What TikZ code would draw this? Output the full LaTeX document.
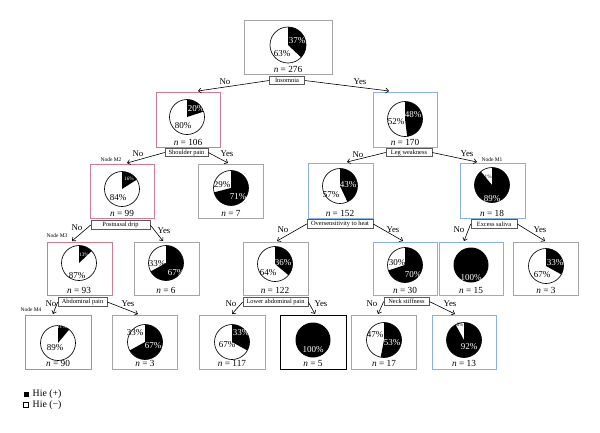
\documentclass[tikz,border=0pt]{standalone}
\usepackage{fontspec}
\setmainfont{Liberation Serif}
\usetikzlibrary{arrows.meta}
\definecolor{bpink}{RGB}{205,125,145}
\definecolor{bblue}{RGB}{140,175,225}
\definecolor{bgray}{RGB}{165,165,165}
\definecolor{lgray}{RGB}{90,90,90}
\newcommand\mypie[4]{%
  \begin{scope}[shift={(#1,#2)},x=1pt,y=1pt]
    \fill[black] (0,0) -- (0,#4) arc[start angle=90,end angle={90-3.6*#3},radius=#4] -- cycle;
    \draw[line width=0.65pt] (0,0) circle[radius=#4];
  \end{scope}}
\newcommand\fullpie[3]{%
  \fill[black] (#1,#2) circle[radius=#3];}
\newcommand\tbox[6]{%
  \node[tbx,draw=#6,minimum width={(#4-#2)*1pt},minimum height={(#5-#3)*1pt},anchor=north west] (#1) at (#2,#3) {};}
\begin{document}
\begin{tikzpicture}[x=1pt,y=-1pt,
  tbx/.style={line width=0.85pt,inner sep=0pt},
  lab/.style={draw=lgray,fill=white,line width=0.6pt,inner sep=0.5pt,minimum height=8.5pt,font=\fontsize{6.4}{6.8}\selectfont},
  pb/.style={font=\fontsize{9}{9}\selectfont,inner sep=0pt,text=black},
  pw/.style={font=\fontsize{9}{9}\selectfont,inner sep=0pt,text=white},
  sb/.style={font=\fontsize{5.2}{5.2}\selectfont,inner sep=0pt,text=black},
  sw/.style={font=\fontsize{5.2}{5.2}\selectfont,inner sep=0pt,text=white},
  nn/.style={font=\fontsize{9.3}{9.3}\selectfont,inner sep=0pt},
  yn/.style={font=\fontsize{8.8}{9}\selectfont,inner sep=0pt},
  ml/.style={font=\fontsize{5.5}{5.5}\selectfont,inner sep=0pt},
  con/.style={line width=0.6pt,-{Straight Barb[length=2.8pt,width=5pt]}}]
\useasboundingbox (0,0) rectangle (600,432);
\fill[white] (0,0) rectangle (600,432);
% boxes
\tbox{root}{244}{20}{332}{74}{bgray}
\tbox{nA}{156}{92}{220}{147}{bpink}
\tbox{nB}{373}{92}{437}{147}{bblue}
\tbox{nM2}{90}{164}{154}{218}{bpink}
\tbox{nSe}{198}{164}{263}{218}{bgray}
\tbox{nOs}{308}{163}{373}{218}{bblue}
\tbox{nM1}{460}{163}{525}{218}{bblue}
\tbox{nM3}{47}{242}{112}{295}{bpink}
\tbox{nSix}{134}{242}{199}{295}{bgray}
\tbox{nLa}{243}{242}{308}{295}{bgray}
\tbox{nNk}{373}{242}{437}{295}{bblue}
\tbox{nFt}{439}{242}{503}{295}{bblue}
\tbox{nThE}{513}{242}{578}{295}{bgray}
\tbox{nM4}{25}{315}{91}{369}{bpink}
\tbox{nThA}{112}{315}{177}{369}{bgray}
\tbox{nOst}{199}{315}{265}{369}{bgray}
\tbox{nFive}{280}{315}{346}{369}{black}
\tbox{nSvt}{351}{315}{416}{369}{bgray}
\tbox{nThr}{432}{315}{496}{369}{bblue}
% pies
\mypie{288}{45}{37}{18}
\mypie{187}{117}{20}{17.5}
\mypie{405}{119}{48}{17.5}
\mypie{122}{189}{16}{17.5}
\mypie{231}{188}{71}{17.5}
\mypie{340}{186}{43}{17.5}
\mypie{492}{185}{89}{17.5}
\mypie{79}{263}{13}{17.5}
\mypie{166}{263}{67}{17.5}
\mypie{275}{264}{36}{17.5}
\mypie{405}{265}{70}{17.5}
\fullpie{471}{265}{17.5}
\mypie{546}{266}{33}{17.5}
\mypie{58}{343}{11}{17.5}
\mypie{145}{342}{67}{17.5}
\mypie{232}{342}{33}{17.5}
\fullpie{313}{340}{17.5}
\mypie{384}{340}{53}{17.5}
\mypie{464}{340}{92}{17.5}
% percentages
\node[pw] at (297,41) {37\%}; \node[pb] at (282,54) {63\%};
\node[pw] at (196,109) {20\%}; \node[pb] at (183,126) {80\%};
\node[pw] at (413,115) {48\%}; \node[pb] at (396,122) {52\%};
\node[sw] at (129,179) {16\%}; \node[pb] at (118,198) {84\%};
\node[pb] at (222,185) {29\%}; \node[pw] at (238,197) {71\%};
\node[pw] at (348,185) {43\%}; \node[pb] at (331,195) {57\%};
\node[sb] at (487,177) {11\%}; \node[pw] at (492,199) {89\%};
\node[sw] at (84,255) {13\%}; \node[pb] at (77,276) {87\%};
\node[pb] at (157,264) {33\%}; \node[pw] at (176,273) {67\%};
\node[pw] at (283,263) {36\%}; \node[pb] at (268,273) {64\%};
\node[pb] at (397,263) {30\%}; \node[pw] at (413,275) {70\%};
\node[pw] at (471,278) {100\%};
\node[pw] at (555,263) {33\%}; \node[pb] at (542,275) {67\%};
\node[sw] at (62,327) {11\%}; \node[pb] at (55,348) {89\%};
\node[pb] at (135,333) {33\%}; \node[pw] at (153,346) {67\%};
\node[pw] at (241,333) {33\%}; \node[pb] at (227,345) {67\%};
\node[pw] at (313,350) {100\%};
\node[pb] at (375,335) {47\%}; \node[pw] at (392,343) {53\%};
\node[sb] at (460,325) {8\%}; \node[pw] at (469,347) {92\%};
% n labels
\node[nn] at (288,69.5) {\textit{n} = 276};
\node[nn] at (188,142) {\textit{n} = 106};
\node[nn] at (405,142) {\textit{n} = 170};
\node[nn] at (122,213) {\textit{n} = 99};
\node[nn] at (231,213) {\textit{n} = 7};
\node[nn] at (340,213) {\textit{n} = 152};
\node[nn] at (492,213) {\textit{n} = 18};
\node[nn] at (79,290.5) {\textit{n} = 93};
\node[nn] at (166,290.5) {\textit{n} = 6};
\node[nn] at (275,290.5) {\textit{n} = 122};
\node[nn] at (405,290.5) {\textit{n} = 30};
\node[nn] at (471,290.5) {\textit{n} = 15};
\node[nn] at (546,290.5) {\textit{n} = 3};
\node[nn] at (58,363.5) {\textit{n} = 90};
\node[nn] at (145,363.5) {\textit{n} = 3};
\node[nn] at (232,363.5) {\textit{n} = 117};
\node[nn] at (313,363.5) {\textit{n} = 5};
\node[nn] at (384,363.5) {\textit{n} = 17};
\node[nn] at (464,363.5) {\textit{n} = 13};
% split labels
\node[lab,minimum width=35pt] (insom) at (287,80.5) {Insomnia};
\node[lab,minimum width=43pt] (shoul) at (186.5,152.5) {Shoulder pain};
\node[lab,minimum width=46pt] (legw) at (409,152.5) {Leg weakness};
\node[lab,minimum width=59pt] (postn) at (120.5,225) {Postnasal drip};
\node[lab,minimum width=66pt] (overs) at (340,224) {Oversensitivity to heat};
\node[lab,minimum width=46pt] (excs) at (494,224) {Excess saliva};
\node[lab,minimum width=49pt] (abdp) at (82.5,302) {Abdominal pain};
\node[lab,minimum width=65pt] (lowab) at (275.5,302) {Lower abdominal pain};
\node[lab,minimum width=45pt] (neck) at (406.5,301.5) {Neck stiffness};
% arrow tips
\coordinate (tA) at (198,91);   \coordinate (tB) at (389,91);
\coordinate (tM2) at (127,163); \coordinate (tSe) at (228,163);
\coordinate (tOs) at (347,162); \coordinate (tM1) at (477,162);
\coordinate (tM3) at (72,241);  \coordinate (tSix) at (163,241);
\coordinate (tLa) at (277,241); \coordinate (tNk) at (403,241);
\coordinate (tFt) at (464,241); \coordinate (tThE) at (545,241);
\coordinate (tM4) at (53,314);  \coordinate (tThA) at (138,314);
\coordinate (tOst) at (232,314); \coordinate (tFive) at (315,314);
\coordinate (tSvt) at (378,314); \coordinate (tThr) at (455,314);
% connectors
\draw[con] (insom.west) -- (tA);  \draw[con] (insom.east) -- (tB);
\draw[con] (shoul.west) -- (tM2); \draw[con] (shoul.east) -- (tSe);
\draw[con] (legw.west) -- (tOs);  \draw[con] (legw.east) -- (tM1);
\draw[con] (postn.west) -- (tM3); \draw[con] (postn.east) -- (tSix);
\draw[con] (overs.west) -- (tLa); \draw[con] (overs.east) -- (tNk);
\draw[con] (excs.west) -- (tFt);  \draw[con] (excs.east) -- (tThE);
\draw[con] (abdp.west) -- (tM4);  \draw[con] (abdp.east) -- (tThA);
\draw[con] (lowab.west) -- (tOst); \draw[con] (lowab.east) -- (tFive);
\draw[con] (neck.west) -- (tSvt); \draw[con] (neck.east) -- (tThr);
% No / Yes
\node[yn] at (225,82) {No};  \node[yn] at (360,82) {Yes};
\node[yn] at (138,154) {No}; \node[yn] at (227,154) {Yes};
\node[yn] at (358,155) {No}; \node[yn] at (467,154) {Yes};
\node[yn] at (77,228) {No};  \node[yn] at (164,231) {Yes};
\node[yn] at (283,230) {No}; \node[yn] at (393,230) {Yes};
\node[yn] at (459,230) {No}; \node[yn] at (540,230) {Yes};
\node[yn] at (51,304) {No};  \node[yn] at (128,304) {Yes};
\node[yn] at (231,304) {No}; \node[yn] at (321,304) {Yes};
\node[yn] at (372,304) {No}; \node[yn] at (450,304) {Yes};
% node marks
\node[ml] at (111,160) {Node M2};
\node[ml] at (492,160) {Node M1};
\node[ml] at (57,236) {Node M3};
\node[ml] at (31,310) {Node M4};
% legend
\node[fill=black,minimum size=5pt,inner sep=0pt] (lgp) at (26,394) {};
\node[draw=black,fill=white,line width=0.5pt,minimum size=5pt,inner sep=0pt] (lgm) at (26,405) {};
\node[anchor=west,font=\fontsize{9.8}{9.8}\selectfont,inner sep=0pt] at (32.5,394) {Hie (+)};
\node[anchor=west,font=\fontsize{9.8}{9.8}\selectfont,inner sep=0pt] at (32.5,405) {Hie (−)};
\end{tikzpicture}
\end{document}
